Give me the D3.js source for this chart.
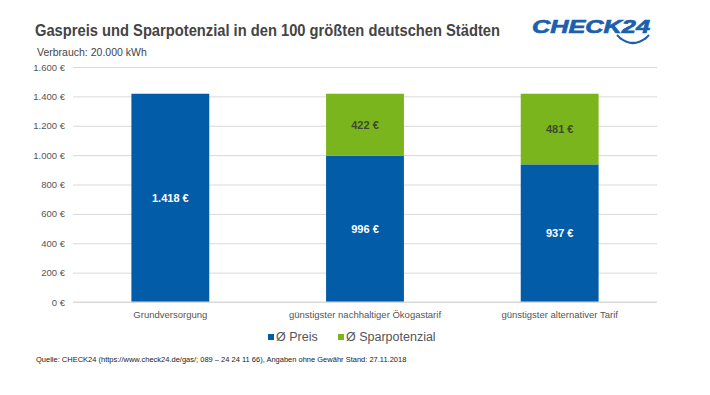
<!DOCTYPE html>
<head>
  <meta charset="utf-8">
  <script src="https://cdn.jsdelivr.net/npm/d3@7"></script>
  <style>
    body { margin: 0; background: #fff; font-family: "Liberation Sans", Arial, sans-serif; }
  </style>
</head>
<body>
  <div id="chartDiv"></div>
  <script>
    // data
    var categories = ["Grundversorgung", "günstigster nachhaltiger Ökogastarif", "günstigster alternativer Tarif"];
    var preis = [1418, 996, 937];
    var sparpotenzial = [0, 422, 481];
    var yTicks = [0, 200, 400, 600, 800, 1000, 1200, 1400, 1600];
    var seriesNames = ["Ø Preis", "Ø Sparpotenzial"];
    var colors = ["#035ca8", "#7ab51d"];

    var width = 710, height = 395;
    var margin = {top: 67, left: 73, right: 53, bottom: 93};

    var svg = d3.select("#chartDiv").append("svg")
        .attr("width", width)
        .attr("height", height);

    var fmt = d3.formatLocale({decimal: ",", thousands: ".", grouping: [3], currency: ["", " €"]}).format(",");

    var x = d3.scaleBand()
        .domain(categories)
        .range([margin.left, width - margin.right])
        .paddingInner(0.6)
        .paddingOuter(0.3);

    var y = d3.scaleLinear()
        .domain([0, 1600])
        .range([height - margin.bottom, margin.top]);

    // title
    svg.append("text")
        .attr("x", 35).attr("y", 36)
        .attr("textLength", 465).attr("lengthAdjust", "spacingAndGlyphs")
        .style("font-size", "16px").style("font-weight", "bold")
        .style("fill", "#444")
        .text("Gaspreis und Sparpotenzial in den 100 größten deutschen Städten");

    svg.append("text")
        .attr("x", 37).attr("y", 56)
        .style("font-size", "10.5px").style("fill", "#444")
        .text("Verbrauch: 20.000 kWh");

    // logo
    svg.append("text")
        .attr("x", 532).attr("y", 33)
        .attr("textLength", 118).attr("lengthAdjust", "spacingAndGlyphs")
        .style("font-size", "19px").style("font-weight", "bold").style("font-style", "italic")
        .style("fill", "#1b5fae").style("stroke", "#1b5fae").style("stroke-width", 0.7)
        .text("CHECK24");
    svg.append("path")
        .attr("d", "M620,38 Q633,48 646,38")
        .attr("fill", "none").attr("stroke", "#1b5fae").attr("stroke-width", 2.2);
    svg.append("path")
        .attr("d", "M617,35 L621,39 M649,35 L645,39")
        .attr("stroke", "#1b5fae").attr("stroke-width", 2);

    // grid + y axis
    var yAxis = svg.append("g")
        .attr("transform", "translate(" + margin.left + ",0)")
        .call(d3.axisLeft(y).tickValues(yTicks)
            .tickSize(-(width - margin.left - margin.right))
            .tickPadding(8)
            .tickFormat(function(d) { return fmt(d) + " €"; }));
    yAxis.select(".domain").remove();
    yAxis.selectAll(".tick line").attr("stroke", "#d9d9d9").attr("stroke-width", 1);
    yAxis.selectAll(".tick text")
        .style("font-size", "9.5px").style("fill", "#555")
        .style("font-family", "'Liberation Sans', Arial, sans-serif");

    // stacked bars
    var stackData = categories.map(function(c, i) {
      return {cat: c, preis: preis[i], spar: sparpotenzial[i]};
    });
    var stack = d3.stack().keys(["preis", "spar"])(stackData);

    stack.forEach(function(layer, li) {
      var g = svg.append("g");
      g.selectAll("rect")
          .data(layer)
          .join("rect")
          .attr("x", function(d) { return x(d.data.cat); })
          .attr("width", x.bandwidth())
          .attr("y", function(d) { return y(d[1]); })
          .attr("height", function(d) { return y(d[0]) - y(d[1]); })
          .attr("fill", colors[li]);
      g.selectAll("text")
          .data(layer.filter(function(d) { return d[1] - d[0] > 0; }))
          .join("text")
          .attr("x", function(d) { return x(d.data.cat) + x.bandwidth() / 2; })
          .attr("y", function(d) { return (y(d[0]) + y(d[1])) / 2 + 4; })
          .attr("text-anchor", "middle")
          .style("font-size", "11px").style("font-weight", "bold")
          .style("fill", li == 0 ? "#fff" : "#3d4a2e")
          .text(function(d) { return fmt(d[1] - d[0]) + " €"; });
    });

    // x axis baseline + labels
    svg.append("line")
        .attr("x1", margin.left).attr("x2", width - margin.right)
        .attr("y1", y(0)).attr("y2", y(0))
        .attr("stroke", "#d9d9d9");
    svg.selectAll("text.cat")
        .data(categories)
        .join("text")
        .attr("class", "cat")
        .attr("x", function(d) { return x(d) + x.bandwidth() / 2; })
        .attr("y", y(0) + 16)
        .attr("text-anchor", "middle")
        .style("font-size", "9.5px").style("fill", "#555")
        .text(function(d) { return d; });

    // legend
    var legend = svg.append("g").attr("transform", "translate(268,341)");
    var lx = [0, 70];
    seriesNames.forEach(function(n, i) {
      legend.append("rect")
          .attr("x", lx[i]).attr("y", -7).attr("width", 6).attr("height", 6)
          .attr("fill", colors[i]);
      legend.append("text")
          .attr("x", lx[i] + 8).attr("y", 0)
          .style("font-size", "12.5px").style("fill", "#555")
          .text(n);
    });

    // source
    svg.append("text")
        .attr("x", 36).attr("y", 362)
        .style("font-size", "7.5px").style("fill", "#222")
        .text("Quelle: CHECK24 (https://www.check24.de/gas/; 089 – 24 24 11 66), Angaben ohne Gewähr Stand: 27.11.2018");
  </script>
</body>
